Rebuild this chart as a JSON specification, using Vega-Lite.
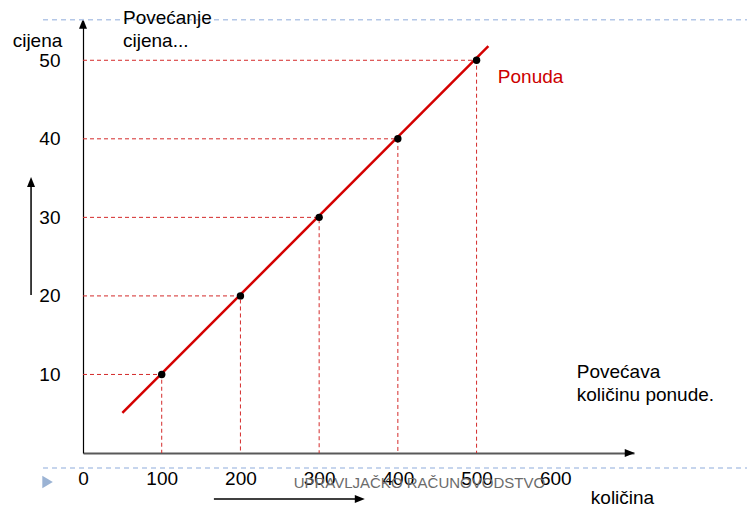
{
  "$schema": "https://vega.github.io/schema/vega-lite/v6.json",
  "width": 551,
  "height": 432,
  "autosize": {"type": "none"},
  "padding": {"left": 83, "top": 21, "right": 113, "bottom": 55},
  "background": "white",
  "config": {"view": {"stroke": null}, "font": "Liberation Sans"},
  "data": {"values": [{"oznaka": "anotacija"}]},
  "datasets": {
    "tocke": [
      {"kolicina": 100, "cijena": 10},
      {"kolicina": 200, "cijena": 20},
      {"kolicina": 300, "cijena": 30},
      {"kolicina": 400, "cijena": 40},
      {"kolicina": 500, "cijena": 50}
    ],
    "vodilice": [
      {"tocka": 1, "kolicina": 0, "cijena": 10}, {"tocka": 1, "kolicina": 100, "cijena": 10}, {"tocka": 1, "kolicina": 100, "cijena": 0},
      {"tocka": 2, "kolicina": 0, "cijena": 20}, {"tocka": 2, "kolicina": 200, "cijena": 20}, {"tocka": 2, "kolicina": 200, "cijena": 0},
      {"tocka": 3, "kolicina": 0, "cijena": 30}, {"tocka": 3, "kolicina": 300, "cijena": 30}, {"tocka": 3, "kolicina": 300, "cijena": 0},
      {"tocka": 4, "kolicina": 0, "cijena": 40}, {"tocka": 4, "kolicina": 400, "cijena": 40}, {"tocka": 4, "kolicina": 400, "cijena": 0},
      {"tocka": 5, "kolicina": 0, "cijena": 50}, {"tocka": 5, "kolicina": 500, "cijena": 50}, {"tocka": 5, "kolicina": 500, "cijena": 0}
    ],
    "ponuda": [
      {"kolicina": 50, "cijena": 5.1},
      {"kolicina": 515, "cijena": 51.8}
    ]
  },
  "layer": [
    {
      "data": {"name": "vodilice"},
      "mark": {"type": "line", "stroke": "#d42a2a", "strokeWidth": 1, "strokeDash": [4, 3]},
      "encoding": {
        "detail": {"field": "tocka", "type": "nominal"},
        "order": {"value": null},
        "x": {
          "field": "kolicina", "type": "quantitative",
          "scale": {"domain": [0, 700], "nice": false, "zero": false},
          "axis": {
            "values": [0, 100, 200, 300, 400, 500, 600],
            "grid": false, "ticks": false, "tickSize": 0,
            "domainColor": "#595959", "domainWidth": 2,
            "labelFontSize": 19, "labelColor": "#000000", "labelPadding": 16,
            "labelFlush": false, "labelOverlap": false,
            "title": "količina", "titleFontSize": 19, "titleFontWeight": "normal", "titleColor": "#000000",
            "titleX": 539, "titleY": 50, "titleAlign": "center", "titleBaseline": "alphabetic"
          }
        },
        "y": {
          "field": "cijena", "type": "quantitative",
          "scale": {"domain": [0, 55], "nice": false, "zero": false},
          "axis": {
            "values": [10, 20, 30, 40, 50],
            "grid": false, "ticks": false, "tickSize": 0,
            "domainColor": "#000000", "domainWidth": 1.2,
            "labelFontSize": 19, "labelColor": "#000000", "labelPadding": 23,
            "labelFlush": false, "labelOverlap": false,
            "title": "cijena", "titleFontSize": 19, "titleFontWeight": "normal", "titleColor": "#000000",
            "titleAngle": 0, "titleX": -46, "titleY": 25, "titleAlign": "center", "titleBaseline": "alphabetic"
          }
        }
      }
    },
    {
      "data": {"name": "ponuda"},
      "mark": {"type": "line", "stroke": "#d40000", "strokeWidth": 2.5},
      "encoding": {
        "x": {"field": "kolicina", "type": "quantitative"},
        "y": {"field": "cijena", "type": "quantitative"}
      }
    },
    {
      "data": {"name": "tocke"},
      "mark": {"type": "point", "filled": true, "fill": "#000000", "size": 55, "opacity": 1},
      "encoding": {
        "x": {"field": "kolicina", "type": "quantitative"},
        "y": {"field": "cijena", "type": "quantitative"}
      }
    },
    {
      "mark": {"type": "point", "shape": "M0,-1L0.8,1L-0.8,1Z", "filled": true, "fill": "#000000", "size": 100, "opacity": 1},
      "encoding": {
        "x": {"datum": 0, "type": "quantitative"},
        "y": {"datum": 54.65, "type": "quantitative"}
      }
    },
    {
      "mark": {"type": "point", "shape": "M1,0L-1,-0.8L-1,0.8Z", "filled": true, "fill": "#000000", "size": 100, "opacity": 1},
      "encoding": {
        "x": {"datum": 694.6, "type": "quantitative"},
        "y": {"datum": 0, "type": "quantitative"}
      }
    },
    {
      "mark": {"type": "rule", "stroke": "#000000", "strokeWidth": 1.5},
      "encoding": {
        "x": {"datum": -66, "type": "quantitative"},
        "y": {"datum": 20.1, "type": "quantitative"},
        "y2": {"datum": 34.5}
      }
    },
    {
      "mark": {"type": "point", "shape": "M0,-1L0.8,1L-0.8,1Z", "filled": true, "fill": "#000000", "size": 100, "opacity": 1},
      "encoding": {
        "x": {"datum": -66, "type": "quantitative"},
        "y": {"datum": 34.5, "type": "quantitative"}
      }
    },
    {
      "mark": {"type": "rule", "stroke": "#000000", "strokeWidth": 1.5},
      "encoding": {
        "x": {"datum": 166.3, "type": "quantitative"},
        "x2": {"datum": 351.7},
        "y": {"datum": -5.86, "type": "quantitative"}
      }
    },
    {
      "mark": {"type": "point", "shape": "M1,0L-1,-0.8L-1,0.8Z", "filled": true, "fill": "#000000", "size": 100, "opacity": 1},
      "encoding": {
        "x": {"datum": 351.7, "type": "quantitative"},
        "y": {"datum": -5.86, "type": "quantitative"}
      }
    },
    {
      "mark": {"type": "rule", "stroke": "#b4c7e7", "strokeWidth": 1.5, "strokeDash": [5, 4]},
      "encoding": {
        "x": {"datum": -50.8, "type": "quantitative"},
        "x2": {"datum": 845},
        "y": {"datum": 55.16, "type": "quantitative"}
      }
    },
    {
      "mark": {"type": "rule", "stroke": "#b4c7e7", "strokeWidth": 1.5, "strokeDash": [5, 4]},
      "encoding": {
        "x": {"datum": -50.8, "type": "quantitative"},
        "x2": {"datum": 845},
        "y": {"datum": -1.91, "type": "quantitative"}
      }
    },
    {
      "mark": {"type": "point", "shape": "M1,0L-1,-1.2L-1,1.2Z", "filled": true, "fill": "#9bb3d4", "size": 110, "opacity": 1},
      "encoding": {
        "x": {"datum": -45, "type": "quantitative"},
        "y": {"datum": -3.7, "type": "quantitative"}
      }
    },
    {
      "mark": {"type": "text", "text": "UPRAVLJAČKO RAČUNOVODSTVO", "fontSize": 15, "fill": "#6b6b6b", "align": "center", "baseline": "alphabetic"},
      "encoding": {
        "x": {"datum": 427.3, "type": "quantitative"},
        "y": {"datum": -4.5, "type": "quantitative"}
      }
    },
    {
      "mark": {"type": "text", "text": "Ponuda", "fontSize": 19, "fill": "#cc0000", "align": "left", "baseline": "alphabetic"},
      "encoding": {
        "x": {"datum": 527, "type": "quantitative"},
        "y": {"datum": 47.13, "type": "quantitative"}
      }
    },
    {
      "mark": {"type": "text", "text": ["Povećava", "količinu ponude."], "fontSize": 19, "lineHeight": 23, "fill": "#000000", "align": "left", "baseline": "alphabetic"},
      "encoding": {
        "x": {"datum": 627.3, "type": "quantitative"},
        "y": {"datum": 9.55, "type": "quantitative"}
      }
    },
    {
      "mark": {"type": "text", "text": ["Povećanje", "cijena..."], "fontSize": 19, "lineHeight": 23, "fill": "#000000", "align": "left", "baseline": "alphabetic"},
      "encoding": {
        "x": {"datum": 50.8, "type": "quantitative"},
        "y": {"datum": 54.65, "type": "quantitative"}
      }
    }
  ]
}
